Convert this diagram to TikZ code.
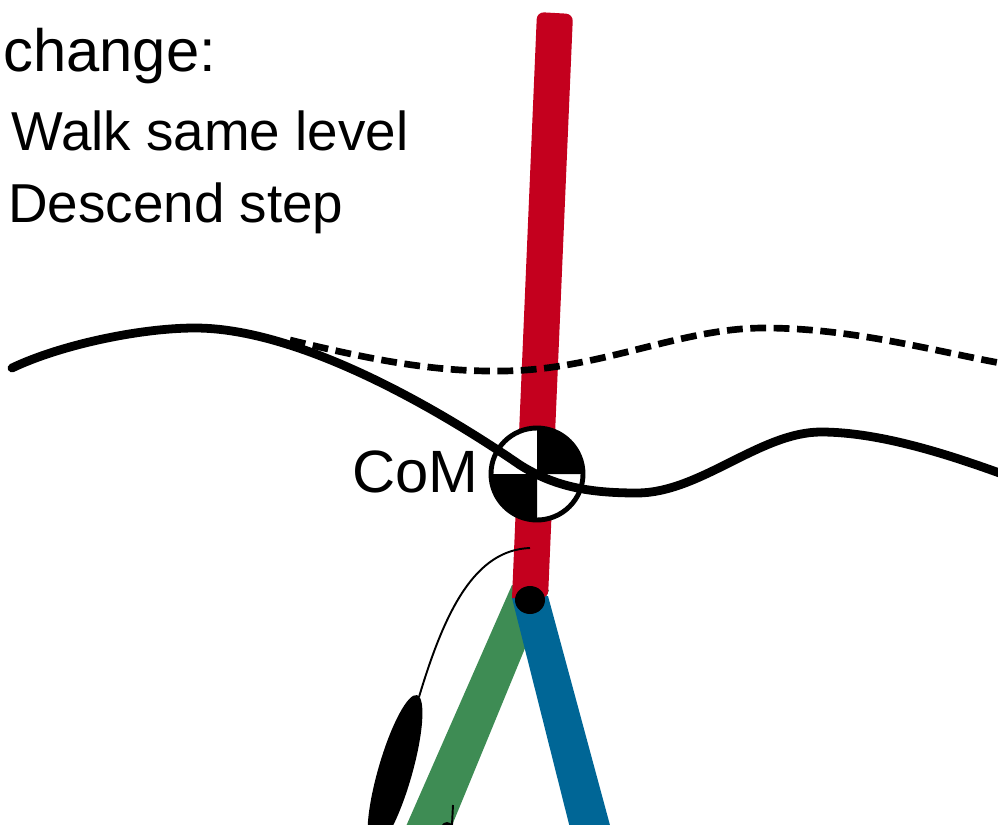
\documentclass[tikz,border=0pt]{standalone}
\usepackage{fontspec}
\setmainfont{Liberation Sans}
\usetikzlibrary{positioning}
\definecolor{trunkred}{RGB}{196, 0, 30}
\definecolor{legleft}{RGB}{62, 140, 84}
\definecolor{legright}{RGB}{0, 102, 150}

\begin{document}
\begin{tikzpicture}[x=0.02cm, y=-0.02cm,
  big/.style={inner sep=0pt, font=\fontsize{34}{40}\selectfont},
  small/.style={inner sep=0pt, font=\fontsize{31.2}{36}\selectfont},
  path line/.style={line width=5pt, line cap=round}]
\useasboundingbox (0,0) rectangle (998,825);
\clip (0,0) rectangle (998,825);

% legs and trunk
\fill[legleft] (512,585) -- (549,590) -- (446,840) -- (400,840) -- cycle;
\fill[legright] (512,598) -- (548,596) -- (614,840) -- (573,840) -- cycle;
\fill[trunkred] (512,598) [rounded corners=4pt] -- (537,12) -- (573,14)
  -- (548,598) [sharp corners] -- cycle;
\fill[black] (530,600) ellipse [x radius=15, y radius=14];

% thin cable down to the foot
\draw[line width=1.1pt] (530,548) .. controls (475,550) and (445,610) .. (419,697);
\fill[black, rotate around={-16:(395,772)}] (395,772) ellipse [x radius=17, y radius=80];
\draw[line width=1.1pt] (453,805) -- (452,825);
\fill[black] (447,838) ellipse [x radius=9, y radius=16];

% centre of mass marker
\fill[white] (537,474) circle [radius=46];
\fill[black] (537,474) -- ++(0,-46) arc[start angle=-90, end angle=0, radius=46] -- cycle;
\fill[black] (537,474) -- ++(0,46) arc[start angle=90, end angle=180, radius=46] -- cycle;
\draw[line width=2.8pt] (537,474) circle [radius=46];

% descend step (dashed) and same level walk (solid)
\draw[line width=3.8pt, dash pattern=on 9pt off 4.3pt]
  (290,340) .. controls (380,362) and (440,372) .. (503,371)
  .. controls (600,370) and (680,328) .. (764,328)
  .. controls (850,328) and (930,350) .. (1000,363);
\draw[path line]
  (12,368) .. controls (60,345) and (140,328) .. (195,328)
  .. controls (300,328) and (440,410) .. (520,465)
  .. controls (555,487) and (590,493) .. (637,493)
  .. controls (700,493) and (760,432) .. (821,432)
  .. controls (880,432) and (950,455) .. (1005,475);

% labels
\node[big, anchor=base west] (title) at (3,71) {change:};
\node[small, anchor=base west] (walk) at (11,150) {Walk same level};
\node[small, anchor=base west] (descend) at (8,222) {Descend step};
\node[big, anchor=base east] (com) at (479,492) {CoM};
\end{tikzpicture}
\end{document}
